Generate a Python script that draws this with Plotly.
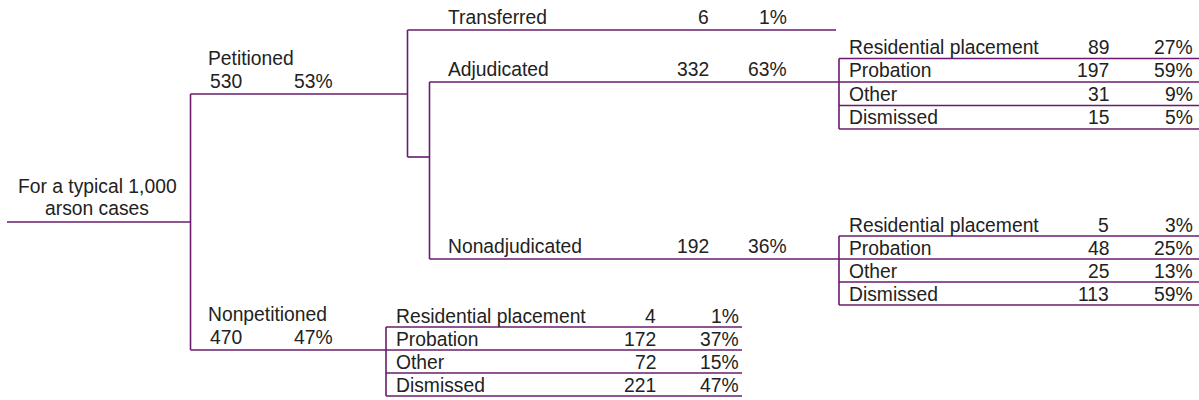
import plotly.graph_objects as go

# ---------------- data ----------------
root_label = ["For a typical 1,000", "arson cases"]

intake_labels = ["Petitioned", "Nonpetitioned"]
intake_counts = [530, 470]
intake_pcts = [53, 47]

petitioned_labels = ["Transferred", "Adjudicated", "Nonadjudicated"]
petitioned_counts = [6, 332, 192]
petitioned_pcts = [1, 63, 36]

disposition_labels = ["Residential placement", "Probation", "Other", "Dismissed"]
adjudicated_counts = [89, 197, 31, 15]
adjudicated_pcts = [27, 59, 9, 5]
nonadjudicated_counts = [5, 48, 25, 113]
nonadjudicated_pcts = [3, 25, 13, 59]
nonpetitioned_counts = [4, 172, 72, 221]
nonpetitioned_pcts = [1, 37, 15, 47]

# ---------------- layout (pixel geometry) ----------------
W, H = 1199, 400
LINE = "#6a1b6e"
TEXT = "#222222"
FONT = "Liberation Sans, Arial, sans-serif"
FS = 19.3

fig = go.Figure()
lines_x, lines_y = [], []


def seg(x0, y0, x1, y1):
    lines_x.extend([x0, x1, None])
    lines_y.extend([y0, y1, None])


annotations = []


def txt(x, y, s, anchor="left"):
    annotations.append(dict(x=x, y=y, xref="x", yref="y", text=s, showarrow=False,
                            xanchor=anchor, yanchor="middle",
                            font=dict(family=FONT, size=FS, color=TEXT)))


def pct(v):
    return f"{v}%"


# root
root_y = 222
trunk_x = 190.5
seg(7, root_y, trunk_x, root_y)
txt(97, 186, root_label[0], "center")
txt(97, 208, root_label[1], "center")

# intake split
intake_y = [94, 350]
seg(trunk_x, intake_y[0], trunk_x, intake_y[1])
intake_end = [407.5, 386]
for i in range(2):
    seg(trunk_x, intake_y[i], intake_end[i], intake_y[i])
    txt(206, intake_y[i] - 36, intake_labels[i])
    txt(208, intake_y[i] - 13, str(intake_counts[i]))
    txt(292, intake_y[i] - 13, pct(intake_pcts[i]))

# petitioned split
px = 407.5
qx = 429.5
tr_y, adj_y, non_y = 30, 82, 259
seg(px, tr_y, px, 157)
seg(px, 157, qx, 157)
seg(qx, adj_y, qx, non_y)
seg(px, tr_y, 836, tr_y)
seg(qx, adj_y, 839, adj_y)
seg(qx, non_y, 839, non_y)
for i, yy in enumerate([tr_y, adj_y, non_y]):
    txt(446, yy - 13, petitioned_labels[i])
    txt(711, yy - 13, str(petitioned_counts[i]), "right")
    txt(789, yy - 13, pct(petitioned_pcts[i]), "right")


def table(x0, x1, top_line, row_h, counts, pcts, num_x, pct_x):
    lines = [top_line + k * row_h for k in range(4)]
    seg(x0, lines[0], x0, lines[-1])
    for ly in lines:
        seg(x0, ly, x1, ly)
    for k in range(4):
        cy = top_line + (k - 1) * row_h + row_h / 2 + 0.5
        txt(x0 + 8, cy, disposition_labels[k])
        txt(num_x, cy, str(counts[k]), "right")
        txt(pct_x, cy, pct(pcts[k]), "right")


table(839, 1199, 58.5, 23.5, adjudicated_counts, adjudicated_pcts, 1111, 1195)
table(839, 1199, 236, 23, nonadjudicated_counts, nonadjudicated_pcts, 1111, 1195)
table(386, 742, 327, 23, nonpetitioned_counts, nonpetitioned_pcts, 658, 741)

fig.add_trace(go.Scatter(x=lines_x, y=lines_y, mode="lines",
                         line=dict(color=LINE, width=1.6), hoverinfo="skip",
                         showlegend=False))

fig.update_layout(
    width=W, height=H,
    margin=dict(l=0, r=0, t=0, b=0),
    paper_bgcolor="white", plot_bgcolor="white",
    xaxis=dict(range=[0, W], visible=False, fixedrange=True),
    yaxis=dict(range=[H, 0], visible=False, fixedrange=True),
    annotations=annotations,
    showlegend=False,
)

fig.write_html("out.html", config={"displayModeBar": False})

# remove default page margin so the figure sits at the window's top-left corner
with open("out.html", "r", encoding="utf-8") as f:
    html = f.read()
html = html.replace("<body>", '<body style="margin:0;overflow:hidden">', 1)
with open("out.html", "w", encoding="utf-8") as f:
    f.write(html)
